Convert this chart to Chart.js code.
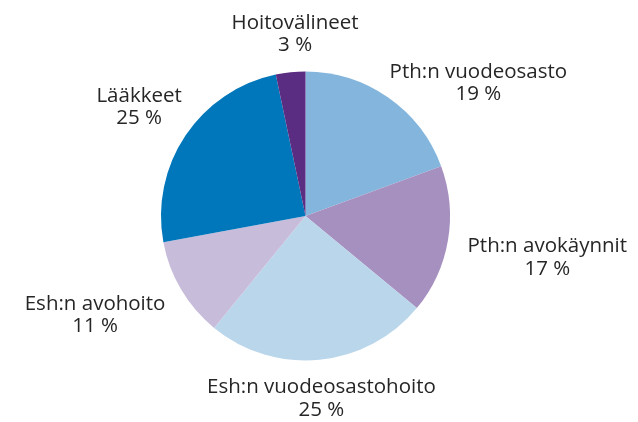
<!DOCTYPE html>
<html>
<head>
<meta charset="utf-8">
<script src="https://cdn.jsdelivr.net/npm/chart.js@4.4.1/dist/chart.umd.min.js"></script>
<style>
  html, body { margin: 0; padding: 0; background: #ffffff; }
  #wrap { width: 638px; height: 422px; position: relative; }
</style>
</head>
<body>
<div id="wrap"><canvas id="c" width="638" height="422"></canvas></div>
<script>
// ---- data ----
const categories = [
  "Pth:n vuodeosasto",
  "Pth:n avokäynnit",
  "Esh:n vuodeosastohoito",
  "Esh:n avohoito",
  "Lääkkeet",
  "Hoitovälineet"
];
const shares = [19.4, 16.6, 24.9, 11.2, 24.6, 3.3];

// ---- style / layout ----
const colors = ["#84b6dd", "#a690bf", "#bad6eb", "#c8bcdb", "#0077bb", "#5a2d82"];
const labelNudgeX = [29, 3, -11, -10, 4, 13];
const labelNudgeY = [17, 11, 1, 6, -7, 0];
const FONT = '20.5px "Open Sans", "Noto Sans", sans-serif';
const LINE_GAP = 22.5;
const LABEL_GAP = 18;

const outsideLabels = {
  id: 'outsideLabels',
  afterDatasetsDraw(chart) {
    const ctx = chart.ctx;
    const meta = chart.getDatasetMeta(0);
    ctx.save();
    ctx.font = FONT;
    ctx.fillStyle = '#262626';
    ctx.textAlign = 'center';
    ctx.textBaseline = 'middle';
    meta.data.forEach((arc, i) => {
      const p = arc.getProps(['x', 'y', 'startAngle', 'endAngle', 'outerRadius'], true);
      const mid = (p.startAngle + p.endAngle) / 2;
      const dx = Math.cos(mid), dy = Math.sin(mid);
      const l1 = categories[i];
      const l2 = Math.round(shares[i]) + ' %';
      const w = Math.max(ctx.measureText(l1).width, ctx.measureText(l2).width);
      const h = LINE_GAP + 18;
      const r = p.outerRadius + LABEL_GAP;
      const cx = p.x + r * dx + (w / 2) * dx + labelNudgeX[i];
      const cy = p.y + r * dy + (h / 2) * dy + labelNudgeY[i];
      ctx.fillText(l1, cx, cy - LINE_GAP / 2);
      ctx.fillText(l2, cx, cy + LINE_GAP / 2);
    });
    ctx.restore();
  }
};

new Chart(document.getElementById('c'), {
  type: 'pie',
  data: {
    labels: categories,
    datasets: [{
      data: shares,
      backgroundColor: colors,
      borderWidth: 0
    }]
  },
  options: {
    responsive: false,
    animation: false,
    layout: { padding: { left: 161, right: 188, top: 71.5, bottom: 61.5 } },
    plugins: {
      legend: { display: false },
      tooltip: { enabled: false }
    }
  },
  plugins: [outsideLabels]
});
</script>
</body>
</html>
